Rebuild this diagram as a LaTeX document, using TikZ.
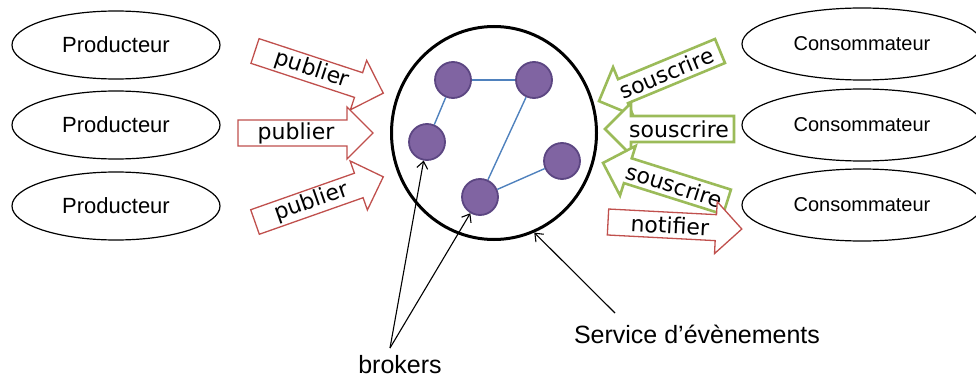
\documentclass[tikz,border=0pt]{standalone}
\usepackage{fontspec}
\setmainfont{Liberation Sans}
\newfontfamily\arrowfont{DejaVu Sans}
\usetikzlibrary{shapes.geometric,arrows.meta}

\definecolor{pubred}{HTML}{C0504D}
\definecolor{subgreen}{HTML}{9BBB59}
\definecolor{brokerfill}{HTML}{8064A2}
\definecolor{brokerline}{HTML}{5C4682}
\definecolor{linkblue}{HTML}{4F81BD}

% Block arrow: #1 style, #2 tail centre, #3 direction, #4 length,
% #5 label name, #6 label distance from tail, #7 label angle, #8 label text
\newcommand\blockarrow[8]{%
  \begin{scope}[shift={#2}, rotate=#3]
    \draw[#1] (0,-13) -- ({#4-26},-13) -- ({#4-26},-26) -- (#4,0)
      -- ({#4-26},26) -- ({#4-26},13) -- (0,13) -- cycle;
    \node[arrowlabel, rotate=#7] (#5) at (#6,0) {#8};
  \end{scope}}

\begin{document}
\begin{tikzpicture}[x=1pt, y=-1pt,
  actor/.style={ellipse, draw, line width=1.2pt, inner sep=0pt},
  producer/.style={actor, minimum width=208pt, minimum height=68pt,
    font=\fontsize{22}{26}\selectfont},
  consumer/.style={actor, minimum width=240pt, minimum height=72pt,
    font=\fontsize{20}{24}\selectfont},
  broker/.style={circle, fill=brokerfill, draw=brokerline, line width=1.8pt,
    minimum size=36pt, inner sep=0pt},
  link/.style={linkblue, line width=1.4pt},
  pubarrow/.style={draw=pubred, fill=white, line width=1.3pt},
  subarrow/.style={draw=subgreen, fill=white, line width=2.6pt},
  arrowlabel/.style={font=\arrowfont\fontsize{22}{26}\selectfont, inner sep=0pt},
  pointer/.style={-{Straight Barb[length=7pt,width=11pt]}, line width=1.1pt},
  caption/.style={font=\fontsize{25}{30}\selectfont, inner sep=0pt}]

\useasboundingbox (0,0) rectangle (976,377);

% producers and consumers
\node[producer] (p1) at (116,45)  {Producteur};
\node[producer] (p2) at (116,125) {Producteur};
\node[producer] (p3) at (116,206) {Producteur};
\node[consumer] (c1) at (862,44)  {Consommateur};
\node[consumer] (c2) at (862,125) {Consommateur};
\node[consumer] (c3) at (862,205) {Consommateur};

% event service with its brokers
\node[ellipse, draw, line width=3pt, minimum width=205pt, minimum height=213pt,
  inner sep=0pt] (svc) at (494,133) {};
\node[broker] (b1) at (453,80)  {};
\node[broker] (b2) at (534,80)  {};
\node[broker] (b3) at (427,142) {};
\node[broker] (b4) at (480,197) {};
\node[broker] (b5) at (562,161) {};
\draw[link] (b1) -- (b2);
\draw[link] (b1) -- (b3);
\draw[link] (b2) -- (b4);
\draw[link] (b4) -- (b5);

% publish / subscribe / notify arrows
\blockarrow{pubarrow}{(255,51)}{-18.2}{135}{pub1}{60}{-18.2}{publier}
\blockarrow{pubarrow}{(238,133)}{0}{135}{pub2}{58}{0}{publier}
\blockarrow{pubarrow}{(255,222)}{19.4}{136}{pub3}{60}{19.4}{publier}
\blockarrow{subarrow}{(720,51)}{-157.5}{131}{sub1}{58}{22.5}{souscrire}
\blockarrow{subarrow}{(734,129)}{180}{129}{sub2}{55}{0}{souscrire}
\blockarrow{subarrow}{(727,202)}{162.5}{130}{sub3}{55}{-17.5}{souscrire}
\blockarrow{pubarrow}{(608,222)}{-3}{134}{notif}{62}{-3}{notifier}

% captions with their pointers
\node[caption] (brk) at (400,365) {brokers};
\node[caption] (svclbl) at (697,334) {Service d’évènements};
\coordinate (brkfoot) at (390,348);
\coordinate (svcfoot) at (615,313);
\draw[pointer] (brkfoot) -- (b3);
\draw[pointer] (brkfoot) -- (b4);
\draw[pointer] (svcfoot) -- (svc.-68);
\end{tikzpicture}
\end{document}
